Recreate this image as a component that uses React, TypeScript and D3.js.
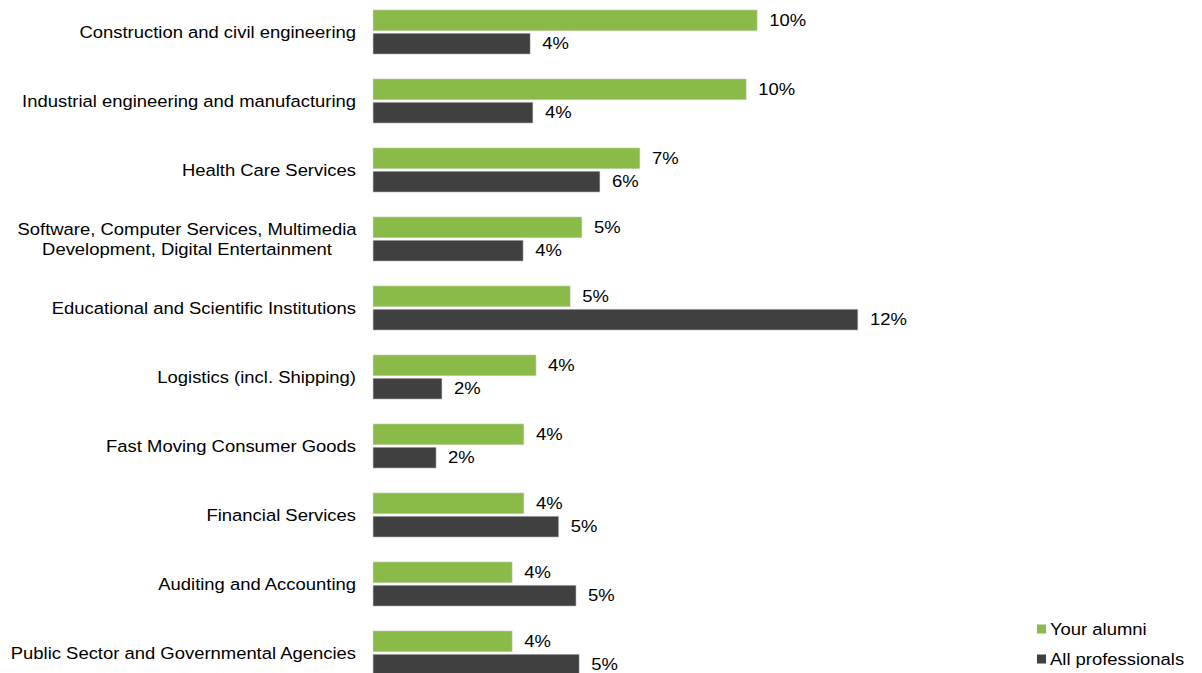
import React from "react";
import * as d3 from "d3";

const categories = [
  "Construction and civil engineering",
  "Industrial engineering and manufacturing",
  "Health Care Services",
  "Software, Computer Services, Multimedia\nDevelopment, Digital Entertainment",
  "Educational and Scientific Institutions",
  "Logistics (incl. Shipping)",
  "Fast Moving Consumer Goods",
  "Financial Services",
  "Auditing and Accounting",
  "Public Sector and Governmental Agencies",
];
const alumni = [9.8, 9.52, 6.81, 5.33, 5.03, 4.16, 3.85, 3.85, 3.55, 3.55];
const allPros = [4.01, 4.08, 5.79, 3.83, 12.37, 1.76, 1.61, 4.74, 5.18, 5.26];
const seriesNames = ["Your alumni", "All professionals"];
const colors = ["#8aba47", "#404040"];

const W = 1202;
const H = 673;
const FONT = "'Liberation Sans', Arial, sans-serif";
const SX = 1.085;
const FS = 17;

function Label({
  x,
  y,
  anchor = "start",
  children,
}: {
  x: number;
  y: number;
  anchor?: "start" | "middle" | "end";
  children: React.ReactNode;
}) {
  return (
    <text
      transform={`translate(${x},${y}) scale(${SX},1)`}
      textAnchor={anchor}
      dominantBaseline="central"
      fontSize={FS}
      fill="#000"
    >
      {children}
    </text>
  );
}

export default function App() {
  const x = d3.scaleLinear().domain([0, 14]).range([373, 373 + 14 * 39.2]);
  const y = d3
    .scaleBand<string>()
    .domain(categories)
    .range([-2.5, 687.5])
    .paddingInner(0.36)
    .paddingOuter(0.18);
  const inner = d3
    .scaleBand<string>()
    .domain(seriesNames)
    .range([0, y.bandwidth()])
    .paddingInner(0.1);

  const series = [alumni, allPros];

  return (
    <svg
      width={W}
      height={H}
      style={{ position: "absolute", left: 0, top: 0, background: "#fff" }}
      fontFamily={FONT}
    >
      {categories.map((c, i) => {
        const lines = c.split("\n");
        const cy = (y(c) as number) + y.bandwidth() / 2;
        return (
          <g key={c}>
            {lines.length === 1 ? (
              <Label x={356} y={cy} anchor="end">
                {c}
              </Label>
            ) : (
              lines.map((l, k) => (
                <Label key={k} x={187} y={cy - 10 + k * 20} anchor="middle">
                  {l}
                </Label>
              ))
            )}
            {series.map((vals, s) => {
              const by = (y(c) as number) + (inner(seriesNames[s]) as number);
              const v = vals[i];
              return (
                <g key={s}>
                  <rect
                    x={x(0)}
                    y={by}
                    width={x(v) - x(0)}
                    height={inner.bandwidth()}
                    fill={colors[s]}
                    stroke="#d9d9d9"
                    strokeWidth={0.6}
                  />
                  <Label x={x(v) + 12} y={by + inner.bandwidth() / 2}>
                    {Math.round(v)}%
                  </Label>
                </g>
              );
            })}
          </g>
        );
      })}
      {seriesNames.map((n, s) => (
        <g key={n} transform={`translate(1037, ${629 + s * 30})`}>
          <rect x={0} y={-4.5} width={9} height={9} fill={colors[s]} />
          <Label x={13} y={0}>
            {n}
          </Label>
        </g>
      ))}
    </svg>
  );
}
